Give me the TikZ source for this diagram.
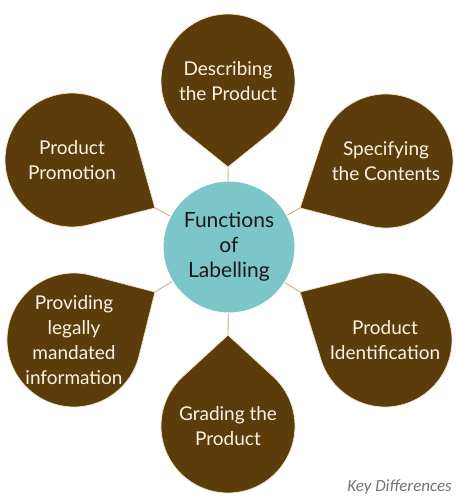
\documentclass[tikz,border=0pt]{standalone}
\usepackage{fontspec}
\setmainfont{Lato}
\newfontfamily\keyfont{Carlito}
\usetikzlibrary{calc}
\definecolor{petalbrown}{RGB}{92,60,11}
\definecolor{petalline}{RGB}{240,228,200}
\definecolor{hubteal}{RGB}{124,198,202}
\definecolor{linktan}{RGB}{205,178,125}
\definecolor{petaltext}{RGB}{250,244,230}
\tikzset{
  hub/.style={circle, fill=hubteal, draw=white, line width=1pt, minimum size=132pt, inner sep=0pt,
    align=center, font=\fontsize{21}{25}\selectfont, text=black!90},
  petaltxt/.style={align=center, text=petaltext, font=\fontsize{19}{25}\selectfont, inner sep=0pt},
  petalshape/.style={fill=petalbrown, draw=petalline, line width=0.8pt},
  link/.style={draw=linktan, line width=0.9pt},
  keytxt/.style={text=black!55, font=\keyfont\itshape\fontsize{17}{20}\selectfont, inner sep=0pt}
}
\begin{document}
\begin{tikzpicture}[x=1pt,y=-1pt]
\useasboundingbox (0,0) rectangle (455,500);
\node[hub] (c) at (229,247) {Functions\\of\\Labelling};
\foreach \nm/\cx/\cy/\tx/\ty/\txt in {
  a/228/81/228/167/{Describing\\the Product},
  b/386/161/300/208/{Specifying\\the Contents},
  d/385/340/300/292/{Product\\Identification},
  e/228/426/228/335/{Grading the\\Product},
  f/74/340/155/292/{Providing\\legally\\mandated\\information},
  g/72/160/155/208/{Product\\Promotion}}
{
  \coordinate (t\nm) at (\tx,\ty);
  \coordinate (k\nm) at (\cx,\cy);
  \path[petalshape] let \p1=($(t\nm)-(k\nm)$), \n1={atan2(\y1,\x1)}, \n2={veclen(\x1,\y1)}, \n3={acos(67pt/\n2)} in
    (t\nm) -- ($(k\nm)+(\n1+\n3:67pt)$) arc[start angle=\n1+\n3, end angle=\n1+360-\n3, radius=67pt] -- cycle;
  \node[petaltxt] (p\nm) at (k\nm) {\txt};
  \draw[link] (t\nm) -- (c);
}
\node[keytxt, anchor=base east] (key) at (452,491) {Key Differences};
\end{tikzpicture}
\end{document}
